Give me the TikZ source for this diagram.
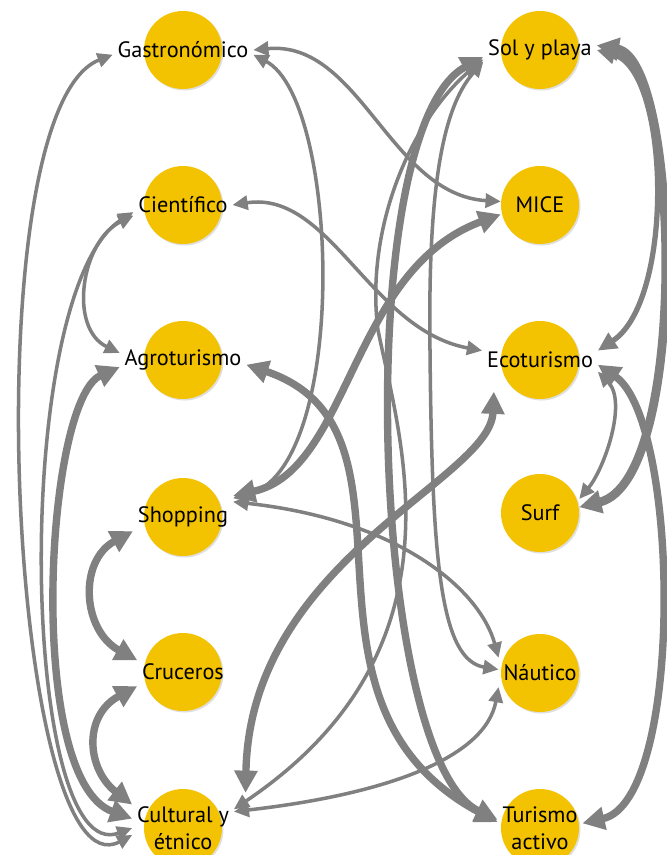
\documentclass[tikz,border=0pt]{standalone}
\usepackage{fontspec}
\setmainfont{PT Sans}
\usepackage{tikz}
\usetikzlibrary{arrows.meta,shadows}
\definecolor{bubyellow}{RGB}{243,194,0}
\definecolor{linkgray}{RGB}{128,128,128}

\begin{document}
\begin{tikzpicture}[
    x=0.03cm, y=-0.03cm,
    bubble/.style={circle, fill=bubyellow, minimum size=2.34cm, inner sep=0pt, drop shadow={shadow xshift=1.3pt, shadow yshift=-1.3pt, opacity=0.25}},
    tag/.style={inner xsep=4pt, inner ysep=1pt, minimum width=2.34cm, align=center, font=\fontsize{19}{23}\selectfont},
    lnk/.style={draw=linkgray, line width=3pt, {Triangle[length=13pt, width=12pt]}-{Triangle[length=13pt, width=12pt]}},
    lnkmid/.style={draw=linkgray, line width=4.5pt, {Triangle[length=16pt, width=15pt]}-{Triangle[length=16pt, width=15pt]}},
    lnkbig/.style={draw=linkgray, line width=6.3pt, {Triangle[length=19pt, width=19pt]}-{Triangle[length=19pt, width=19pt]}},
]
\useasboundingbox (0,0) rectangle (667,855);
\clip (0,0) rectangle (667,855);

% bubbles
\node[bubble] (gasB) at (183,50) {};
\node[bubble] (cieB) at (183,205) {};
\node[bubble] (agrB) at (183,360) {};
\node[bubble] (shoB) at (183,517) {};
\node[bubble] (cruB) at (183,672) {};
\node[bubble] (culB) at (183,828) {};
\node[bubble] (solB) at (540,50) {};
\node[bubble] (micB) at (540,205) {};
\node[bubble] (ecoB) at (540,360) {};
\node[bubble] (surB) at (540,513) {};
\node[bubble] (nauB) at (540,673) {};
\node[bubble] (turB) at (540,828) {};

% labels
\node[tag] (gas) at (183,50) {Gastronómico};
\node[tag] (cie) at (183,205) {Científico};
\node[tag] (agr) at (183,360) {Agroturismo};
\node[tag] (sho) at (183,517) {Shopping};
\node[tag] (cru) at (183,672) {Cruceros};
\node[tag] (cul) at (183,828) {Cultural y\\étnico};
\node[tag] (sol) at (540,50) {Sol y playa};
\node[tag] (mic) at (540,205) {MICE};
\node[tag] (eco) at (540,360) {Ecoturismo};
\node[tag] (sur) at (540,513) {Surf};
\node[tag] (nau) at (540,673) {Náutico};
\node[tag] (tur) at (540,828) {Turismo\\activo};

% left column
\draw[lnk] ([yshift=-4pt]gas.west) .. controls (-30,110) and (10,900) .. ([yshift=-6pt]cul.west);
\draw[lnk] ([yshift=-6pt]cie.west) .. controls (10,290) and (20,870) .. ([yshift=0pt]cul.west);
\draw[lnk] ([yshift=-9pt]cie.west) .. controls +(-52,25) and +(-52,-25) .. ([yshift=6pt]agr.west);
\draw[lnkbig] ([yshift=-6pt]agr.west) .. controls (45,400) and (25,780) .. ([yshift=8pt]cul.west);
\draw[lnkbig] ([yshift=-12pt]sho.west) .. controls +(-55,30) and +(-55,-30) .. ([yshift=10pt]cru.west);
\draw[lnkbig] ([yshift=-12pt]cru.west) .. controls +(-55,30) and +(-45,-35) .. ([yshift=20pt]cul.west);

% across
\draw[lnk] (gas.east) .. controls (360,40) and (390,195) .. ([yshift=3pt]mic.west);
\draw[lnk] ([yshift=-4pt]gas.east) .. controls (340,100) and (350,470) .. ([yshift=16pt]sho.east);
\draw[lnk] (cie.east) .. controls (330,190) and (370,330) .. ([yshift=8pt]eco.west);
\draw[lnkbig] ([yshift=18pt]sho.east) .. controls (350,470) and (350,270) .. ([yshift=-8pt]mic.west);
\draw[lnk] ([yshift=13pt]sho.east) .. controls (400,520) and (480,590) .. ([yshift=13pt]nau.west);
\draw[lnkbig] ([yshift=-4pt]agr.east) .. controls (440,430) and (270,700) .. ([yshift=5pt]tur.west);
\draw[lnkbig] ([yshift=-6pt]sol.west) .. controls (350,130) and (370,760) .. ([yshift=7pt]tur.west);
\draw[lnk] ([yshift=-8pt]sol.west) .. controls (410,120) and (365,230) .. (378,330)
    .. controls (400,440) and (470,650) .. ([yshift=16pt]cul.east);
\draw[lnk] ([yshift=-10pt]sol.west) .. controls (440,110) and (428,200) .. (430,350)
    .. controls (432,560) and (440,660) .. ([yshift=3pt]nau.west);
\draw[lnk] ([yshift=-12pt]nau.west) .. controls (485,760) and (380,795) .. ([yshift=14pt]cul.east);
\draw[lnkbig] ([xshift=10pt,yshift=-27pt]eco.west) .. controls (490,480) and (250,560) .. ([xshift=10pt,yshift=30pt]cul.east);

% right column
\draw[lnkbig, line width=7.5pt] ([yshift=4pt]sol.east) .. controls (680,60) and (690,480) .. ([yshift=5pt]sur.east);
\draw[lnkmid] (sol.east) .. controls (670,70) and (675,300) .. ([yshift=8pt]eco.east);
\draw[lnkbig] ([yshift=-4pt]eco.east) .. controls (680,420) and (685,800) .. ([yshift=4pt]tur.east);
\draw[lnk] ([yshift=-10pt]eco.east) .. controls +(30,30) and +(25,-30) .. ([yshift=12pt]sur.east);
\end{tikzpicture}
\end{document}
